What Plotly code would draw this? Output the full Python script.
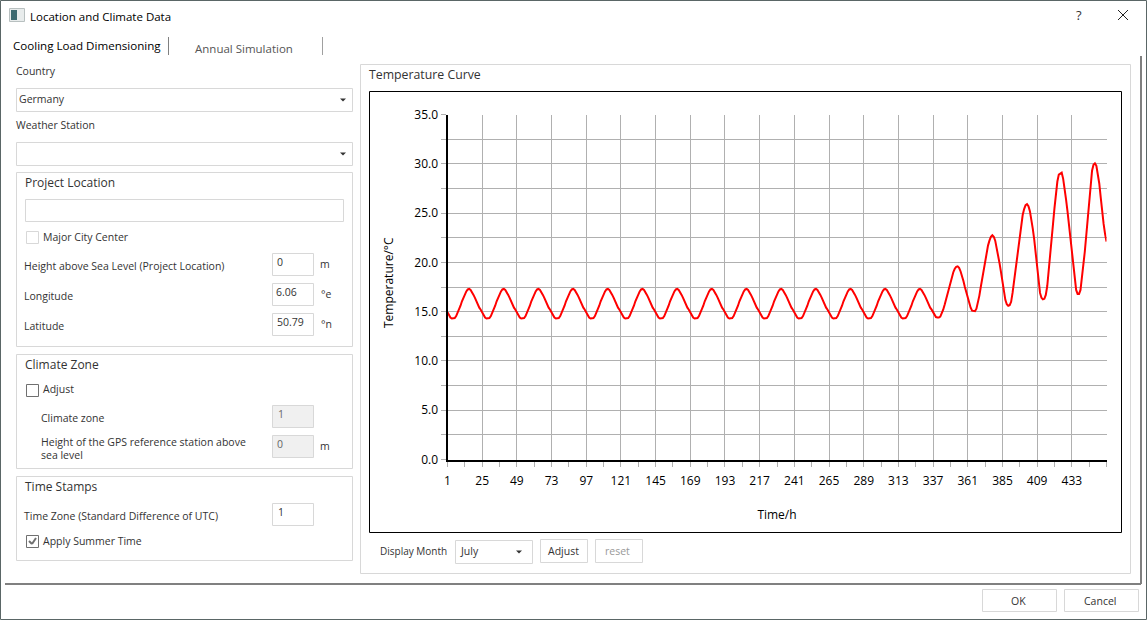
import plotly.graph_objects as go

W, H = 1147, 620
FONT = "Open Sans"

# Hourly temperature, one row per day
temperature = [
    14.95, 14.6, 14.4, 14.3, 14.3, 14.35, 14.55, 14.85, 15.2, 15.6, 16.05, 16.45, 16.8, 17.05, 17.25, 17.3, 17.2, 17.0, 16.7, 16.4, 16.0, 15.7, 15.4, 15.2,
    14.95, 14.6, 14.4, 14.3, 14.3, 14.35, 14.55, 14.85, 15.2, 15.6, 16.05, 16.45, 16.8, 17.05, 17.25, 17.3, 17.2, 17.0, 16.7, 16.4, 16.0, 15.7, 15.4, 15.2,
    14.95, 14.6, 14.4, 14.3, 14.3, 14.35, 14.55, 14.85, 15.2, 15.6, 16.05, 16.45, 16.8, 17.05, 17.25, 17.3, 17.2, 17.0, 16.7, 16.4, 16.0, 15.7, 15.4, 15.2,
    14.95, 14.6, 14.4, 14.3, 14.3, 14.35, 14.55, 14.85, 15.2, 15.6, 16.05, 16.45, 16.8, 17.05, 17.25, 17.3, 17.2, 17.0, 16.7, 16.4, 16.0, 15.7, 15.4, 15.2,
    14.95, 14.6, 14.4, 14.3, 14.3, 14.35, 14.55, 14.85, 15.2, 15.6, 16.05, 16.45, 16.8, 17.05, 17.25, 17.3, 17.2, 17.0, 16.7, 16.4, 16.0, 15.7, 15.4, 15.2,
    14.95, 14.6, 14.4, 14.3, 14.3, 14.35, 14.55, 14.85, 15.2, 15.6, 16.05, 16.45, 16.8, 17.05, 17.25, 17.3, 17.2, 17.0, 16.7, 16.4, 16.0, 15.7, 15.4, 15.2,
    14.95, 14.6, 14.4, 14.3, 14.3, 14.35, 14.55, 14.85, 15.2, 15.6, 16.05, 16.45, 16.8, 17.05, 17.25, 17.3, 17.2, 17.0, 16.7, 16.4, 16.0, 15.7, 15.4, 15.2,
    14.95, 14.6, 14.4, 14.3, 14.3, 14.35, 14.55, 14.85, 15.2, 15.6, 16.05, 16.45, 16.8, 17.05, 17.25, 17.3, 17.2, 17.0, 16.7, 16.4, 16.0, 15.7, 15.4, 15.2,
    14.95, 14.6, 14.4, 14.3, 14.3, 14.35, 14.55, 14.85, 15.2, 15.6, 16.05, 16.45, 16.8, 17.05, 17.25, 17.3, 17.2, 17.0, 16.7, 16.4, 16.0, 15.7, 15.4, 15.2,
    14.95, 14.6, 14.4, 14.3, 14.3, 14.35, 14.55, 14.85, 15.2, 15.6, 16.05, 16.45, 16.8, 17.05, 17.25, 17.3, 17.2, 17.0, 16.7, 16.4, 16.0, 15.7, 15.4, 15.2,
    14.95, 14.6, 14.4, 14.3, 14.3, 14.35, 14.55, 14.85, 15.2, 15.6, 16.05, 16.45, 16.8, 17.05, 17.25, 17.3, 17.2, 17.0, 16.7, 16.4, 16.0, 15.7, 15.4, 15.2,
    14.95, 14.6, 14.4, 14.3, 14.3, 14.35, 14.55, 14.85, 15.2, 15.6, 16.05, 16.45, 16.8, 17.05, 17.25, 17.3, 17.2, 17.0, 16.7, 16.4, 16.0, 15.7, 15.4, 15.2,
    14.95, 14.6, 14.4, 14.3, 14.3, 14.35, 14.55, 14.85, 15.2, 15.6, 16.05, 16.45, 16.8, 17.05, 17.25, 17.3, 17.2, 17.0, 16.7, 16.4, 16.0, 15.7, 15.4, 15.2,
    14.95, 14.6, 14.4, 14.3, 14.3, 14.35, 14.55, 14.85, 15.2, 15.6, 16.05, 16.45, 16.8, 17.05, 17.25, 17.3, 17.2, 17.0, 16.7, 16.4, 16.0, 15.7, 15.4, 15.2,
    14.95, 14.6, 14.45, 14.4, 14.4, 14.5, 14.8, 15.2, 15.7, 16.3, 16.9, 17.5, 18.1, 18.6, 19.0, 19.35, 19.55, 19.6, 19.45, 19.1, 18.7, 18.1, 17.5, 16.9,
    16.3, 15.8, 15.4, 15.1, 15.05, 15.05, 15.3, 15.9, 16.6, 17.5, 18.4, 19.3, 20.2, 21.0, 21.7, 22.2, 22.6, 22.75, 22.6, 22.2, 21.5, 20.7, 19.9, 19.0,
    17.9, 16.9, 16.2, 15.75, 15.6, 15.65, 16.0, 16.9, 18.0, 19.2, 20.4, 21.7, 22.9, 23.9, 24.8, 25.4, 25.8, 25.9, 25.7, 25.2, 24.4, 23.4, 22.3, 21.0,
    19.2, 17.8, 16.9, 16.4, 16.25, 16.3, 16.7, 17.6, 19.0, 20.6, 22.2, 23.9, 25.5, 27.0, 28.2, 28.9, 29.05, 29.1, 28.5, 27.6, 26.4, 25.2, 23.9, 22.5,
    21.1, 19.5, 18.1, 17.2, 16.8, 16.8, 17.2, 18.3, 19.8, 21.1, 22.7, 24.6, 26.4, 27.9, 29.3, 29.9, 30.05, 29.8, 29.0, 28.0, 26.6, 25.1, 23.9, 22.9,
    22.1,
]
hours = list(range(1, len(temperature) + 1))

x_major = [1, 25, 49, 73, 97, 121, 145, 169, 193, 217, 241, 265, 289, 313, 337, 361, 385, 409, 433, 457]
x_labels = ["1", "25", "49", "73", "97", "121", "145", "169", "193", "217", "241", "265", "289", "313", "337", "361", "385", "409", "433", ""]
x_minor = [13, 37, 61, 85, 109, 133, 157, 181, 205, 229, 253, 277, 301, 325, 349, 373, 397, 421, 445]
y_major = [0, 5, 10, 15, 20, 25, 30, 35]
y_labels = ["0.0", "5.0", "10.0", "15.0", "20.0", "25.0", "30.0", "35.0"]
y_minor = [2.5, 7.5, 12.5, 17.5, 22.5, 27.5, 32.5]

# Dialog widgets in screen pixels
group_boxes = [(360.5, 64.5, 1130.5, 573.5), (16.5, 172.5, 352.5, 346.5), (16.5, 354.5, 352.5, 468.5), (16.5, 476.5, 352.5, 560.5)]
plain_boxes = [(16.5, 88.5, 352.5, 111.5), (16.5, 142.5, 352.5, 165.5), (25.5, 199.5, 343.5, 221.5),
               (272.5, 253.5, 313.5, 275.5), (272.5, 283.5, 313.5, 305.5), (272.5, 313.5, 313.5, 335.5),
               (272.5, 503.5, 313.5, 525.5), (455.5, 540.5, 532.5, 563.5), (540.5, 539.5, 587.5, 562.5),
               (595.5, 539.5, 642.5, 562.5), (982.5, 589.5, 1056.5, 611.5), (1064.5, 589.5, 1138.5, 611.5),
               (26.5, 231.5, 38.5, 243.5)]
disabled_boxes = [(272.5, 405.5, 313.5, 427.5), (272.5, 435.5, 313.5, 457.5)]
dark_checks = [(26.5, 384.5, 38.5, 396.5), (26.5, 535.5, 38.5, 547.5)]
arrows = [(343, 100), (343, 154), (519, 552)]

texts = [
    ("Location and Climate Data", 30, 16, 11.5, "#000000"),
    ("Cooling Load Dimensioning", 13, 45, 11.6, "#000000"),
    ("Annual Simulation", 195, 48, 11.5, "#555555"),
    ("Country", 16, 71, 10.5, "#333333"),
    ("Germany", 19, 99, 10.5, "#333333"),
    ("Weather Station", 16, 125, 10.5, "#333333"),
    ("Project Location", 25, 182, 12, "#333333"),
    ("Major City Center", 43, 237, 10.5, "#333333"),
    ("Height above Sea Level (Project Location)", 24, 266, 10.5, "#333333"),
    ("0", 277, 262, 10.5, "#333333"),
    ("m", 320, 264, 10.5, "#333333"),
    ("Longitude", 24, 296, 10.5, "#333333"),
    ("6.06", 276, 292, 10.5, "#333333"),
    ("°e", 321, 294, 10.5, "#333333"),
    ("Latitude", 24, 326, 10.5, "#333333"),
    ("50.79", 277, 322, 10.5, "#333333"),
    ("°n", 321, 324, 10.5, "#333333"),
    ("Climate Zone", 25, 364, 12, "#333333"),
    ("Adjust", 43, 389, 10.5, "#333333"),
    ("Climate zone", 41, 418, 10.5, "#333333"),
    ("1", 278, 414, 10.5, "#666666"),
    ("Height of the GPS reference station above", 41, 442, 10.5, "#333333"),
    ("sea level", 41, 455, 10.5, "#333333"),
    ("0", 277, 444, 10.5, "#666666"),
    ("m", 320, 446, 10.5, "#333333"),
    ("Time Stamps", 25, 486, 12, "#333333"),
    ("Time Zone (Standard Difference of UTC)", 24, 516, 10.5, "#333333"),
    ("1", 278, 512, 10.5, "#333333"),
    ("Apply Summer Time", 43, 541, 10.5, "#333333"),
    ("Temperature Curve", 369, 74, 12.3, "#333333"),
    ("Display Month", 380, 551, 10, "#333333"),
    ("July", 460, 551, 10.5, "#333333"),
    ("Adjust", 548, 551, 10.5, "#333333"),
    ("reset", 605, 551, 10.5, "#999999"),
    ("OK", 1011, 601, 10.5, "#333333"),
    ("Cancel", 1084, 601, 10.5, "#333333"),
    ("?", 1076, 15, 13, "#333333"),
]


# Shapes and texts of the dialog sit on a hidden pixel axis pair (x2, y2)
def rect(x0, y0, x1, y1, line, fill=None, width=1):
    return dict(type="rect", xref="x2", yref="y2", x0=x0, y0=y0, x1=x1, y1=y1,
                line=dict(color=line, width=width), fillcolor=fill)


def seg(x0, y0, x1, y1, color, width=1):
    return dict(type="line", xref="x2", yref="y2", x0=x0, y0=y0, x1=x1, y1=y1,
                line=dict(color=color, width=width))


def tri(x, y):
    return dict(type="path", xref="x2", yref="y2", line=dict(width=0), fillcolor="#333333",
                path=f"M {x - 3} {y - 1.5} L {x + 3} {y - 1.5} L {x} {y + 1.5} Z")


shapes = []
for b in group_boxes + plain_boxes:
    shapes.append(rect(*b, "#d8d8d8"))
for b in disabled_boxes:
    shapes.append(rect(*b, "#d8d8d8", "#f0f0f0"))
for b in dark_checks:
    shapes.append(rect(*b, "#707070"))
for a in arrows:
    shapes.append(tri(*a))

# chart frame, window border and pane lines
shapes.append(rect(369.5, 91.5, 1121.5, 532.5, "#000000"))
shapes.append(rect(0.5, 0.5, 1146.5, 619.5, "#5a6666"))
shapes.append(seg(1141, 56, 1141, 584, "#808080", 2))
shapes.append(seg(5, 584, 1141, 584, "#808080", 2))
shapes.append(seg(168.5, 37, 168.5, 55, "#808080"))
shapes.append(seg(322.5, 37, 322.5, 55, "#a0a0a0"))
# close cross, tick mark and title icon
shapes.append(seg(1118, 10, 1128, 20, "#222222"))
shapes.append(seg(1128, 10, 1118, 20, "#222222"))
shapes.append(seg(29, 541, 32, 544, "#707070", 2))
shapes.append(seg(32, 544, 36, 538, "#707070", 2))
shapes.append(rect(9.5, 8.5, 24.5, 21.5, "#b8c0c0", "#e8ecec"))
shapes.append(rect(11, 10, 17, 20, "#3d6a70", "#3d6a70", 0))

annotations = [
    dict(text=t, x=x, y=y, xref="x2", yref="y2", xanchor="left", yanchor="middle", xshift=-2,
         showarrow=False, font=dict(family=FONT, size=s, color=c))
    for t, x, y, s, c in texts
]
# y axis title sits off the axis centre in the original, so it is placed by hand
annotations.append(dict(text="Temperature/°C", x=388, y=283, xref="x2", yref="y2", textangle=-90,
                        showarrow=False, font=dict(family=FONT, size=12, color="#000000")))

fig = go.Figure(go.Scatter(x=hours, y=temperature, mode="lines", line=dict(color="#ff0000", width=2),
                           showlegend=False, cliponaxis=False))

fig.update_layout(
    width=W, height=H, margin=dict(l=0, r=0, t=0, b=0), autosize=False,
    paper_bgcolor="#ffffff", plot_bgcolor="rgba(0,0,0,0)", showlegend=False,
    font=dict(family=FONT, size=12, color="#000000"),
    shapes=shapes, annotations=annotations,
    xaxis=dict(
        domain=[447.5 / W, 1106.5 / W], range=[1, 457], automargin=False,
        tickmode="array", tickvals=x_major, ticktext=x_labels,
        ticks="outside", ticklen=5, tickcolor="#b0b0b0", tickwidth=1, ticklabelstandoff=4,
        showgrid=True, gridcolor="#b0b0b0", gridwidth=1, zeroline=False,
        showline=True, linecolor="#000000", linewidth=2,
        minor=dict(tickmode="array", tickvals=x_minor, ticks="outside", ticklen=5, tickcolor="#b0b0b0", showgrid=False),
        title=dict(text="Time/h", standoff=23, font=dict(family=FONT, size=12)),
        tickfont=dict(family=FONT, size=12),
    ),
    yaxis=dict(
        domain=[1 - 459.5 / H, 1 - 114.5 / H], range=[0, 35], automargin=False,
        tickmode="array", tickvals=y_major, ticktext=y_labels,
        ticks="outside", ticklen=5, tickcolor="#b0b0b0", tickwidth=1,
        showgrid=True, gridcolor="#b0b0b0", gridwidth=1, zeroline=False,
        showline=True, linecolor="#000000", linewidth=2,
        minor=dict(tickmode="array", tickvals=y_minor, ticks="outside", ticklen=5, tickcolor="#b0b0b0",
                   showgrid=True, gridcolor="#b0b0b0", gridwidth=1),
        tickfont=dict(family=FONT, size=12),
    ),
    xaxis2=dict(domain=[0, 1], range=[0, W], visible=False, anchor="y2", fixedrange=True, automargin=False),
    yaxis2=dict(domain=[0, 1], range=[H, 0], visible=False, anchor="x2", fixedrange=True, automargin=False),
)

fig.write_html("out.html", config=dict(displayModeBar=False), post_script="document.body.style.margin='0';")
